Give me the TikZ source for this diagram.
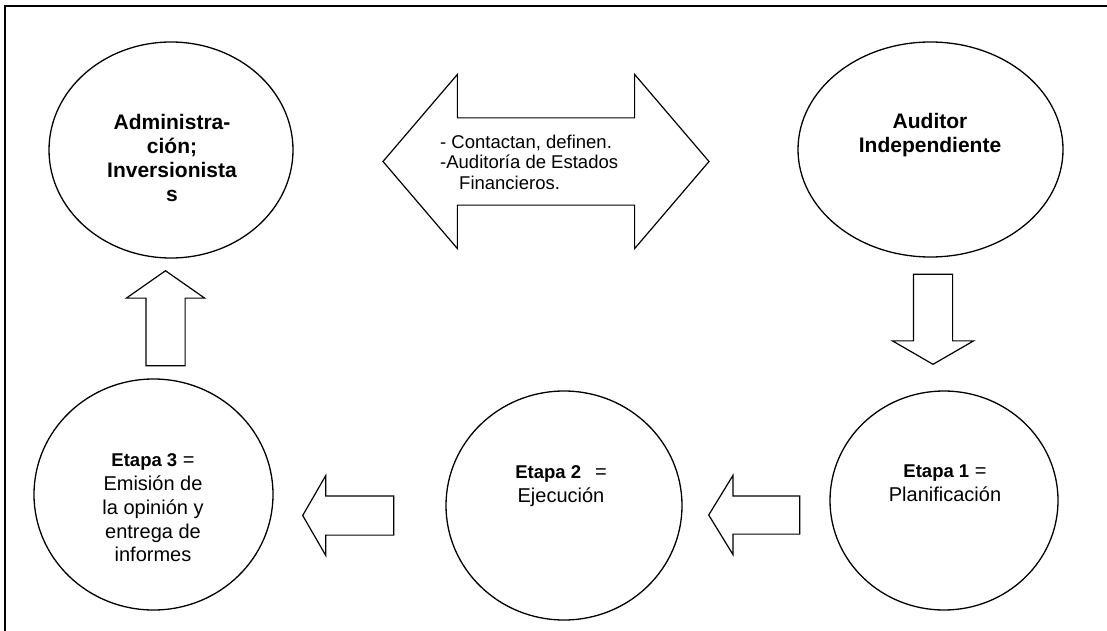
\documentclass[tikz,border=0pt]{standalone}
\usepackage{fontspec}
\setmainfont{Liberation Sans}
\usetikzlibrary{shapes,shapes.arrows}

\tikzset{
  stage/.style={ellipse,draw,line width=1.3pt,inner sep=0pt},
  blkarrow/.style={single arrow,draw,line width=1.2pt,inner xsep=0pt,inner ysep=18.5pt,
    minimum height=91pt,single arrow head extend=20.5pt,
    single arrow tip angle=117,anchor=tip},
  lbl/.style={align=center,inner sep=0pt,font=\fontsize{20}{23.75}\selectfont},
  toplbl/.style={lbl,font=\bfseries\fontsize{21}{24.3}\selectfont}
}

\begin{document}
\begin{tikzpicture}[x=1pt,y=-1pt]
  \useasboundingbox (0,0) rectangle (1107,631);
  \draw[line width=2pt] (5,631) -- (5,6) -- (1107,6) ; %Frame (left and top only)

  %Top row: the two parties
  \node[stage,minimum width=244pt,minimum height=216pt] (admin) at (171,150) {};
  \node[toplbl] (admintxt) at (172,158) {Administra-\\ción;\\Inversionista\\s};
  \node[stage,minimum width=265pt,minimum height=215pt] (auditor) at (930.5,149.5) {};
  \node[toplbl] (auditortxt) at (930,135) {Auditor\\Independiente};

  %Agreement between them
  \node[double arrow,draw,line width=1.2pt,inner xsep=0pt,inner ysep=43pt,
    minimum height=326pt,
    double arrow head extend=43.5pt,double arrow tip angle=99] (deal) at (546,161.5) {};
  \node[align=left,inner sep=0pt,anchor=north west,
    font=\fontsize{18.5}{20.7}\selectfont] (dealtxt) at (440,134.5)
    {- Contactan, definen.\\-Auditoría de Estados\\\hspace*{19pt}Financieros.};

  %Bottom row: the three stages
  \node[stage,minimum width=228pt,minimum height=219pt] (etapa1) at (944,500.5) {};
  \node[lbl] (etapa1txt) at (945,483.4)
    {{\bfseries\fontsize{18.5}{23.75}\selectfont Etapa 1} =\\Planificación};
  \node[stage,minimum width=236pt,minimum height=229pt] (etapa2) at (564,505.5) {};
  \node[lbl] (etapa2txt) at (561,486)
    {{\bfseries\fontsize{18.5}{23.75}\selectfont Etapa 2}\hspace{14pt}=\\Ejecución};
  \node[stage,minimum width=239pt,minimum height=231pt] (etapa3) at (153.5,494.5) {};
  \node[lbl] (etapa3txt) at (153,508)
    {{\bfseries\fontsize{18.5}{23.75}\selectfont Etapa 3} =\\Emisión de\\la opinión y\\entrega de\\informes};

  %Block arrows of the cycle (placed by their tips)
  \node[blkarrow,rotate=-90,minimum height=90pt,inner ysep=19pt,
    single arrow head extend=21pt,single arrow tip angle=120] (down) at (933,365) {};
  \node[blkarrow,rotate=180] (left1) at (708,515) {};
  \node[blkarrow,rotate=180,inner ysep=19pt,single arrow tip angle=120] (left2) at (302,515.5) {};
  \node[blkarrow,rotate=90,minimum height=95pt,inner ysep=19pt,
    single arrow head extend=19.5pt,single arrow tip angle=110] (up) at (165.5,270) {};
\end{tikzpicture}
\end{document}
